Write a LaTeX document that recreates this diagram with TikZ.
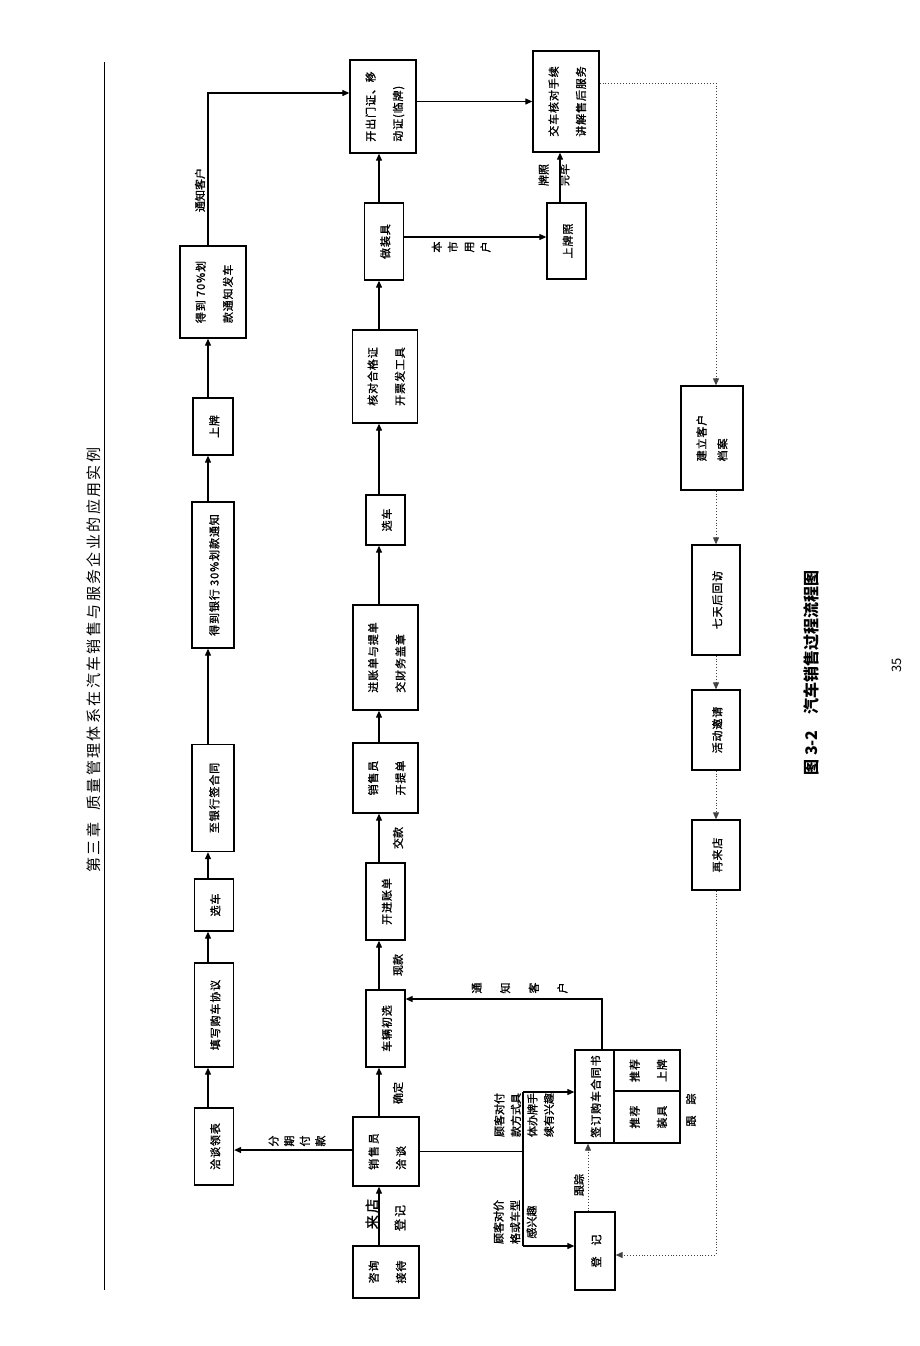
\documentclass[tikz,border=0pt]{standalone}
\usepackage{graphicx}
\usepackage{fontspec}
\setmainfont{Noto Sans CJK SC}
\newfontfamily\bxfont[LetterSpace=8,FakeBold=1.2]{Noto Sans CJK SC}
\newfontfamily\lbfont[FakeBold=1.2]{Noto Sans CJK SC}
\newfontfamily\hdrfont[LetterSpace=16]{Noto Sans CJK SC}
\usetikzlibrary{arrows.meta,calc}
\newcommand\rt[1]{\rotatebox{90}{\def\arraystretch{2.1}\begin{tabular}{@{}l@{}}#1\end{tabular}}}
\newcommand\rts[2]{\rotatebox{90}{\def\arraystretch{#1}\begin{tabular}{@{}l@{}}#2\end{tabular}}}
\newcommand\vst[2]{\rotatebox{90}{\def\arraystretch{#1}\begin{tabular}{@{}c@{}}#2\end{tabular}}}
\tikzset{
  bx/.style={draw, line width=1.3pt, rectangle, inner sep=0pt, font=\bxfont\fontsize{11}{13}\selectfont},
  arr/.style={line width=1.1pt, -{Triangle[length=7pt,width=6pt]}},
  ln/.style={line width=1.1pt},
  dt/.style={line width=0.9pt, dotted, black!75, -{Triangle[length=7pt,width=6pt]}},
  lb/.style={inner sep=0pt, rotate=90, font=\lbfont\fontsize{11}{13}\selectfont},
  lbn/.style={inner sep=0pt, font=\lbfont\fontsize{11}{13}\selectfont}
}
\begin{document}
\begin{tikzpicture}[x=1pt,y=-1pt]
\fill[white] (0,0) rectangle (920,1346);
\useasboundingbox (0,0) rectangle (920,1346);

% header
\node[inner sep=0pt, rotate=90, font=\hdrfont\fontsize{15}{18}\selectfont] (hdr) at (94,660) {第三章\hspace{12pt}质量管理体系在汽车销售与服务企业的应用实例};
\coordinate (ht) at (104,62); \coordinate (hb) at (104,1290);
\draw[line width=0.8pt] (ht) -- (hb);

% left column
\node[bx, minimum width=39, minimum height=77] (L1) at (214,1146.5) {\rt{洽谈领表}};
\node[bx, minimum width=39, minimum height=104] (L2) at (214,1015) {\rt{填写购车协议}};
\node[bx, minimum width=39, minimum height=52] (L3) at (214,905) {\rt{选车}};
\node[bx, minimum width=42, minimum height=107] (L4) at (213,798) {\rt{至银行签合同}};
\node[bx, minimum width=42, minimum height=146] (L5) at (213,575) {\rt{得到银行 30\%划款通知}};
\node[bx, minimum width=40, minimum height=57] (L6) at (213,426.5) {\rt{上牌}};
\node[bx, minimum width=66, minimum height=92] (L7) at (213,292) {\rt{得到 70\%划\\款通知发车}};

% middle column
\node[bx, minimum width=66, minimum height=52] (M1) at (386,1272) {\rt{咨询\\接待}};
\node[bx, minimum width=66, minimum height=69] (M2) at (386,1151.5) {\rt{销\,售\,员\\洽\,谈}};
\node[bx, minimum width=39, minimum height=77] (M3) at (385.5,1028.5) {\rt{车辆初选}};
\node[bx, minimum width=39, minimum height=77] (M4) at (385.5,901.5) {\rt{开进账单}};
\node[bx, minimum width=65, minimum height=70] (M5) at (385.5,778) {\rt{销售员\\开提单}};
\node[bx, minimum width=65, minimum height=105] (M6) at (385.5,657.5) {\rt{进账单与提单\\交财务盖章}};
\node[bx, minimum width=39, minimum height=50] (M7) at (385.5,520) {\rt{选车}};
\node[bx, minimum width=65, minimum height=93] (M8) at (385,376.5) {\rt{核对合格证\\开票发工具}};
\node[bx, minimum width=39, minimum height=77] (M9) at (384,241.5) {\rt{做装具}};
\node[bx, minimum width=66, minimum height=93] (M10) at (383,106.5) {\rt{开出门证、移\\动证(临牌)}};

% right column
\node[bx, minimum width=66, minimum height=101] (R1) at (566,101.5) {\rt{交车核对手续\\讲解售后服务}};
\node[bx, minimum width=39, minimum height=76] (R2) at (566.5,241) {\rt{上牌照}};
\node[bx, minimum width=39, minimum height=93] (R3a) at (594.5,1096.5) {\rt{签订购车合同书}};
\node[bx, minimum width=66, minimum height=41] (R3b) at (647,1070.5) {\rt{推荐\\上牌}};
\node[bx, minimum width=66, minimum height=52] (R3c) at (647,1117) {\rt{推荐\\装具}};
\node[bx, minimum width=40, minimum height=78] (R4) at (595,1251) {\rt{登\quad 记}};

% after-sales column
\node[bx, minimum width=62, minimum height=104] (C1) at (712,438) {\rts{1.6}{建立客户\\档案}};
\node[bx, minimum width=48, minimum height=110] (C2) at (716,600) {\rt{七天后回访}};
\node[bx, minimum width=48, minimum height=80] (C3) at (716,730) {\rt{活动邀请}};
\node[bx, minimum width=48, minimum height=70] (C4) at (716,855) {\rt{再来店}};

% left column connectors
\draw[arr] ([xshift=-6]L1.north) -- ([xshift=-6]L1.north |- L2.south);
\draw[arr] ([xshift=-6]L2.north) -- ([xshift=-6]L2.north |- L3.south);
\draw[arr] ([xshift=-6]L3.north) -- ([xshift=-6]L3.north |- L4.south);
\draw[arr] ([xshift=-5]L4.north) -- ([xshift=-5]L4.north |- L5.south);
\draw[arr] ([xshift=-5]L5.north) -- ([xshift=-5]L5.north |- L6.south);
\draw[arr] ([xshift=-5]L6.north) -- ([xshift=-5]L6.north |- L7.south);
\draw[arr] ([xshift=-5]L7.north) |- ([yshift=13.5]M10.west);

% middle column connectors
\draw[arr] ([xshift=-7]M1.north) -- ([xshift=-7]M1.north |- M2.south);
\draw[arr] ([xshift=-7]M2.north) -- ([xshift=-7]M2.north |- M3.south);
\draw[arr] ([xshift=-6.5]M3.north) -- ([xshift=-6.5]M3.north |- M4.south);
\draw[arr] ([xshift=-6.5]M4.north) -- ([xshift=-6.5]M4.north |- M5.south);
\draw[arr] ([xshift=-6.5]M5.north) -- ([xshift=-6.5]M5.north |- M6.south);
\draw[arr] ([xshift=-6.5]M6.north) -- ([xshift=-6.5]M6.north |- M7.south);
\draw[arr] ([xshift=-6.5]M7.north) -- ([xshift=-6.5]M7.north |- M8.south);
\draw[arr] ([xshift=-6]M8.north) -- ([xshift=-6]M8.north |- M9.south);
\draw[arr] ([xshift=-5]M9.north) -- ([xshift=-5]M9.north |- M10.south);
\draw[arr] ([yshift=1.5]M2.west) -- ([yshift=1.5]M2.west -| L1.east);
\draw[arr] ([yshift=5]M10.east) -- ([yshift=5]M10.east -| R1.west);
\draw[arr] ([yshift=4.5]M9.east) -- ([yshift=4.5]M9.east -| R2.west);
\draw[arr] ([xshift=-6.5]R2.north) -- ([xshift=-6.5]R2.north |- R1.south);

% junction to contract / registration
\coordinate (J) at (523,1151.5);
\coordinate (Jt) at (523,1092);
\coordinate (Jb) at (523,1246);
\draw[ln] (M2.east) -- (J);
\draw[ln] (Jt) -- (Jb);
\draw[arr] (Jt) -- (Jt -| R3a.west);
\draw[arr] (Jb) -- (Jb -| R4.west);
\draw[arr] ([xshift=7.5]R3a.north) |- ([yshift=29.5]M3.east);
\draw[dt] ([xshift=-7]R4.north) -- ([xshift=-7]R4.north |- R3a.south);

% after-sales dotted flow
\draw[dt] ([yshift=18.5]R1.east) -| ([xshift=4]C1.north);
\draw[dt] ([xshift=4]C1.south) -- ([xshift=4]C1.south |- C2.north);
\draw[dt] (C2.south) -- (C3.north);
\draw[dt] (C3.south) -- (C4.north);
\draw[dt] (C4.south) |- ([yshift=-4]R4.east);

% labels
\node[lb] (t1) at (200,190) {通知客户};
\node[lb] (t2) at (398,1093) {确定};
\node[lb] (t3) at (398,965) {现款};
\node[lb] (t4) at (398,838) {交款};
\node[lb, font=\lbfont\fontsize{14}{16}\selectfont] (t5) at (372,1214) {来\,店};
\node[lb, font=\lbfont\fontsize{12}{14}\selectfont] (t6) at (400,1218) {登\,记};
\node[lb] (t7) at (579,1185) {跟踪};
\node[lbn] (t8) at (554,175) {\rts{1.6}{牌照\\完毕}};
\node[lb] (t9) at (691,1110) {跟\quad 踪};
\node[lbn] (t10) at (298,1141) {\vst{1.2}{分\\期\\付\\款}};
\node[lbn] (t11) at (518,988) {\vst{2.2}{通\\知\\客\\户}};
\node[lbn] (t12) at (462,247) {\vst{1.25}{本\\市\\用\\户}};
\node[lbn] (t13) at (525,1115) {\vst{1.27}{顾客对付\\款方式具\\体办牌手\\续有兴趣}};
\node[lbn] (t14) at (516,1222) {\vst{1.27}{顾客对价\\格或车型\\感兴趣}};

% caption and page number
\node[inner sep=0pt, rotate=90, font=\bfseries\fontsize{16}{18}\selectfont] (cap) at (811,673) {图 3-2\quad 汽车销售过程流程图};
\node[inner sep=0pt, rotate=90, font=\fontsize{13}{15}\selectfont] (pg) at (897,665) {35};
\end{tikzpicture}
\end{document}
